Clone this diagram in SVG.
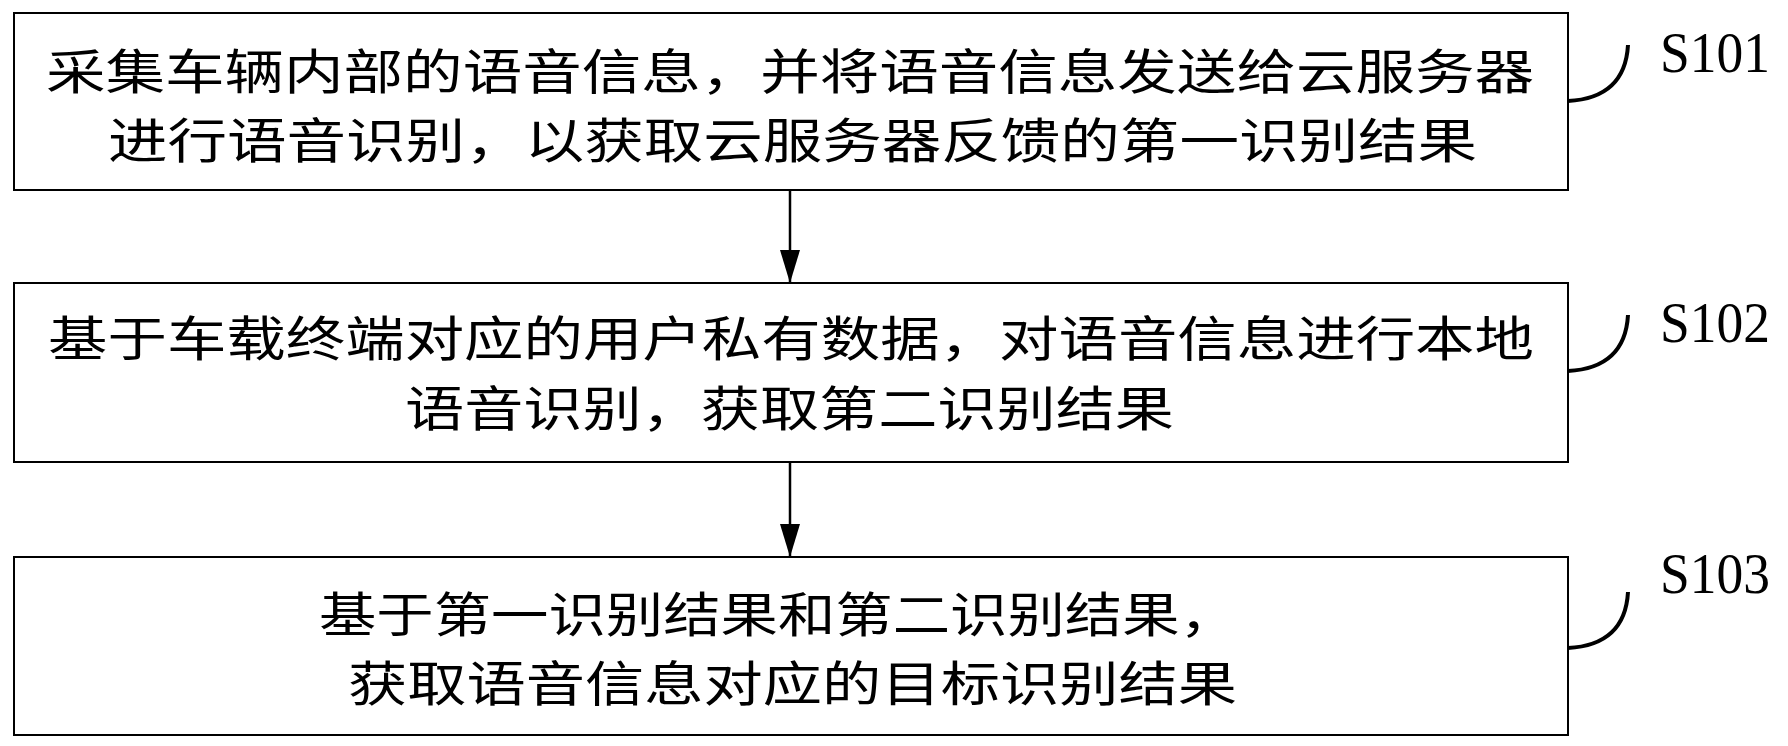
<svg xmlns="http://www.w3.org/2000/svg" width="1788" height="746" viewBox="0 0 1788 746">
<style>
.box{fill:#fff;stroke:#000;stroke-width:2}
.t{font-family:"Liberation Serif","Noto Sans CJK SC",serif;font-size:48px;fill:#000}
.lab{font-family:"Liberation Serif",serif;font-size:58px;fill:#000}
.cur{fill:none;stroke:#000;stroke-width:4}
.con{stroke:#000;stroke-width:2.5}
</style>
<rect width="1788" height="746" fill="#fff"/>
<g id="connectors">
<line class="con" x1="790" y1="190" x2="790" y2="283"/><path d="M780,250 L800,250 L790,283 Z"/>
<line class="con" x1="790" y1="462" x2="790" y2="557"/><path d="M780,524 L800,524 L790,557 Z"/>
</g>
<g id="n1"><rect class="box" x="14" y="13" width="1554" height="177"/>
<text class="t" x="46" y="89" textLength="1488" lengthAdjust="spacingAndGlyphs">采集车辆内部的语音信息，并将语音信息发送给云服务器</text>
<text class="t" x="108" y="158" textLength="1369" lengthAdjust="spacingAndGlyphs">进行语音识别，以获取云服务器反馈的第一识别结果</text></g>
<g id="n2"><rect class="box" x="14" y="283" width="1554" height="179"/>
<text class="t" x="48" y="356" textLength="1486" lengthAdjust="spacingAndGlyphs">基于车载终端对应的用户私有数据，对语音信息进行本地</text>
<text class="t" x="405" y="426" textLength="769" lengthAdjust="spacingAndGlyphs">语音识别，获取第二识别结果</text></g>
<g id="n3"><rect class="box" x="14" y="557" width="1554" height="178"/>
<text class="t" x="319" y="632" textLength="918" lengthAdjust="spacingAndGlyphs">基于第一识别结果和第二识别结果，</text>
<text class="t" x="348" y="701" textLength="889" lengthAdjust="spacingAndGlyphs">获取语音信息对应的目标识别结果</text></g>
<g id="labels">
<path class="cur" d="M1568,101 Q1625,98 1628,45"/>
<text class="lab" x="1660" y="72" textLength="110" lengthAdjust="spacingAndGlyphs">S101</text>
<path class="cur" d="M1568,371 Q1625,368 1628,315"/>
<text class="lab" x="1660" y="342" textLength="110" lengthAdjust="spacingAndGlyphs">S102</text>
<path class="cur" d="M1568,648 Q1625,645 1628,592"/>
<text class="lab" x="1660" y="593" textLength="110" lengthAdjust="spacingAndGlyphs">S103</text>
</g>
</svg>
